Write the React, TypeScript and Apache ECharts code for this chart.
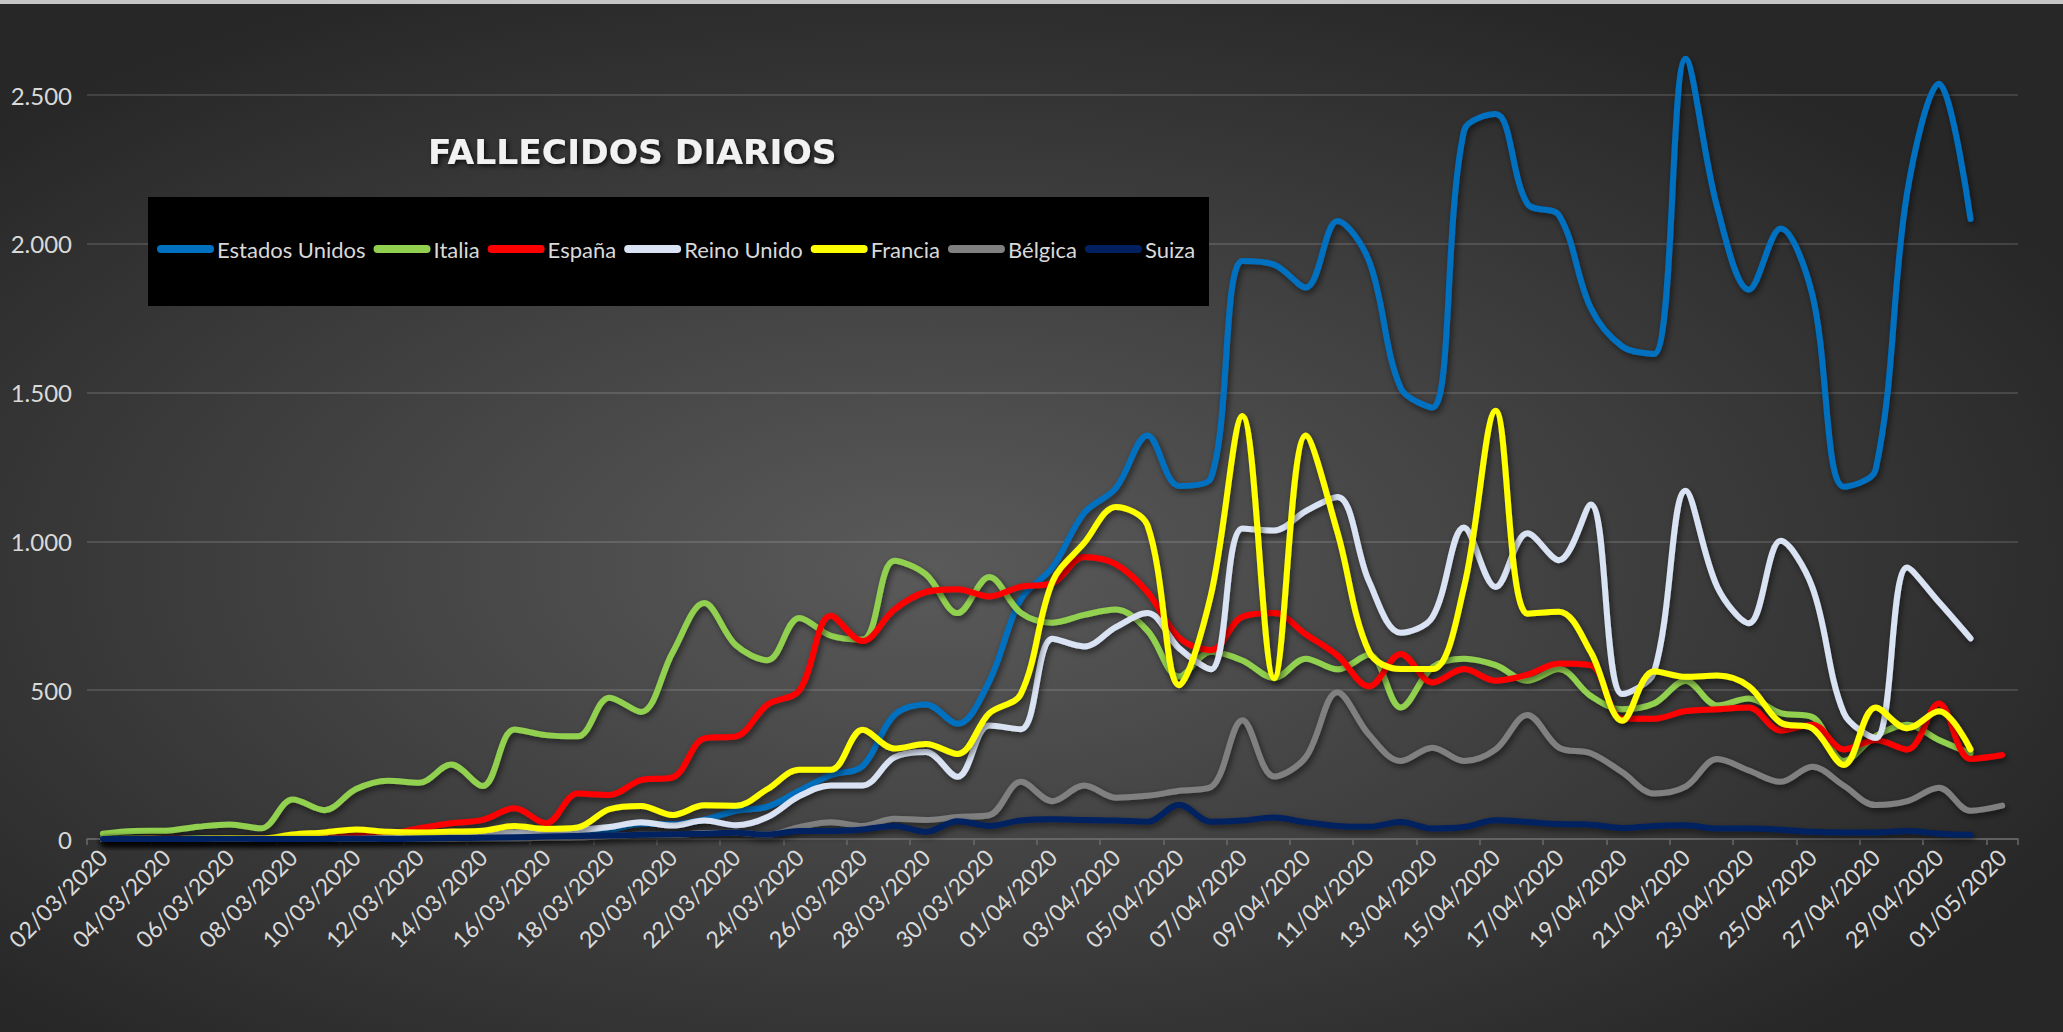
import React, { useEffect, useRef } from "react";
import * as echarts from "echarts";

const fechas = [
  "02/03/2020","03/03/2020","04/03/2020","05/03/2020","06/03/2020","07/03/2020","08/03/2020","09/03/2020","10/03/2020","11/03/2020",
  "12/03/2020","13/03/2020","14/03/2020","15/03/2020","16/03/2020","17/03/2020","18/03/2020","19/03/2020","20/03/2020","21/03/2020",
  "22/03/2020","23/03/2020","24/03/2020","25/03/2020","26/03/2020","27/03/2020","28/03/2020","29/03/2020","30/03/2020","31/03/2020",
  "01/04/2020","02/04/2020","03/04/2020","04/04/2020","05/04/2020","06/04/2020","07/04/2020","08/04/2020","09/04/2020","10/04/2020",
  "11/04/2020","12/04/2020","13/04/2020","14/04/2020","15/04/2020","16/04/2020","17/04/2020","18/04/2020","19/04/2020","20/04/2020",
  "21/04/2020","22/04/2020","23/04/2020","24/04/2020","25/04/2020","26/04/2020","27/04/2020","28/04/2020","29/04/2020","30/04/2020",
  "01/05/2020",
];

const yTicks = [0, 500, 1000, 1500, 2000, 2500];

const estadosUnidos = [
  0, 1, 1, 3, 2, 1, 2, 3, 4, 1, 5, 5, 8, 12, 15, 20, 30, 50, 50, 65,
  95, 109, 162, 215, 245, 416, 452, 387, 530, 806, 913, 1096, 1179, 1356, 1186, 1212, 1942, 1930, 1853, 2077,
  1942, 1515, 1450, 2380, 2436, 2135, 2096, 1785, 1655, 1630, 2622, 2122, 1846, 2051, 1830, 1184, 1240, 2173, 2538, 2083,
];
const italia = [
  18, 27, 28, 41, 49, 36, 133, 97, 168, 196, 189, 250, 178, 368, 349, 345, 475, 427, 627, 793,
  651, 601, 743, 683, 670, 935, 889, 759, 880, 760, 727, 753, 771, 700, 546, 629, 600, 541, 606, 570,
  619, 442, 577, 606, 584, 532, 571, 481, 436, 455, 532, 449, 472, 423, 410, 262, 346, 384, 333, 288,
];
const espana = [
  0, 0, 1, 0, 1, 2, 3, 5, 10, 17, 36, 53, 64, 103, 53, 153, 148, 198, 207, 338,
  345, 452, 499, 750, 665, 771, 830, 839, 815, 848, 860, 948, 924, 830, 676, 635, 747, 759, 688, 617,
  513, 622, 526, 571, 532, 552, 590, 584, 404, 404, 430, 436, 442, 365, 384, 301, 333, 301, 455, 269,
  282,
];
const reinoUnido = [
  0, 0, 0, 0, 1, 1, 0, 1, 1, 3, 5, 8, 15, 22, 25, 30, 40, 56, 45, 62,
  46, 74, 144, 180, 180, 274, 292, 209, 381, 369, 673, 647, 712, 759, 641, 570, 1043, 1037, 1102, 1149,
  865, 693, 745, 1047, 847, 1027, 937, 1124, 487, 560, 1170, 847, 725, 1002, 847, 423, 339, 912, 796, 674,
];
const francia = [
  0, 1, 0, 2, 3, 2, 15, 22, 32, 24, 22, 25, 28, 44, 34, 39, 100, 111, 81, 113,
  112, 168, 233, 233, 367, 304, 319, 286, 422, 487, 865, 995, 1116, 1054, 517, 818, 1421, 540, 1356, 1031,
  629, 571, 571, 847, 1439, 757, 764, 629, 397, 564, 545, 549, 513, 391, 372, 249, 442, 372, 429, 301,
];
const belgica = [
  0, 0, 0, 0, 0, 0, 0, 0, 0, 0, 1, 1, 2, 2, 4, 5, 10, 14, 14, 20,
  21, 15, 40, 56, 44, 68, 64, 74, 80, 192, 127, 180, 139, 145, 162, 174, 399, 210, 275, 493,
  350, 262, 307, 262, 301, 417, 307, 288, 224, 153, 176, 269, 230, 192, 243, 179, 114, 127, 172, 95,
  112,
];
const suiza = [
  0, 0, 0, 0, 1, 0, 0, 0, 1, 0, 2, 3, 4, 6, 8, 10, 12, 14, 16, 18,
  21, 15, 27, 27, 32, 44, 24, 60, 44, 62, 66, 64, 62, 58, 115, 58, 62, 72, 56, 44,
  41, 57, 35, 40, 63, 57, 50, 48, 37, 44, 46, 35, 35, 31, 24, 22, 22, 27, 18, 14,
];

const seriesNames = ["Estados Unidos", "Italia", "España", "Reino Unido", "Francia", "Bélgica", "Suiza"];
const seriesValues = [estadosUnidos, italia, espana, reinoUnido, francia, belgica, suiza];
const seriesColors = ["#0070C0", "#92D050", "#FF0000", "#DAE3F3", "#FFFF00", "#808080", "#002060"];

const fmtMiles = (v: number) => String(v).replace(/\B(?=(\d{3})+(?!\d))/g, ".");

export default function App() {
  const ref = useRef<HTMLDivElement>(null);

  useEffect(() => {
    document.body.style.margin = "0";
    const chart = echarts.init(ref.current!, null, { renderer: "svg" });
    const font = "Lato";
    chart.setOption({
      animation: false,
      color: seriesColors,
      title: {
        text: "FALLECIDOS DIARIOS",
        left: 428,
        top: 134,
        padding: 0,
        textStyle: {
          color: "#f2f2f2",
          fontSize: 34.5,
          fontWeight: "bold",
          fontFamily: "DejaVu Sans",
          textShadowColor: "rgba(0,0,0,0.75)",
          textShadowBlur: 5,
          textShadowOffsetX: 2,
          textShadowOffsetY: 2,
        },
      },
      graphic: {
        elements: [
          {
            type: "rect",
            z: -10,
            silent: true,
            shape: { x: 0, y: 0, width: 2063, height: 1032 },
            style: {
              fill: new echarts.graphic.RadialGradient(0.45, 0.55, 0.62, [
                { offset: 0, color: "#5a5a5a" },
                { offset: 1, color: "#272727" },
              ]),
            },
          },
          {
            type: "rect",
            z: 10,
            silent: true,
            shape: { x: 0, y: 0, width: 2063, height: 4 },
            style: { fill: "#c6c6c6" },
          },
          {
            type: "rect",
            z: 3,
            silent: true,
            shape: { x: 148, y: 197, width: 1061, height: 109 },
            style: { fill: "#000000" },
          },
        ],
      },
      legend: {
        left: 157,
        top: 238,
        padding: 0,
        itemGap: 8,
        itemWidth: 57,
        itemHeight: 8,
        z: 5,
        selectedMode: false,
        icon: "path://M4 0H53A4 4 0 0 1 53 8H4A4 4 0 0 1 4 0Z",
        textStyle: { color: "#d9d9d9", fontSize: 22, fontFamily: font, padding: [0, 0, 0, -2] },
        data: seriesNames,
      },
      grid: { left: 87, right: 45, top: 95, bottom: 193, containLabel: false },
      xAxis: {
        type: "category",
        data: fechas,
        boundaryGap: true,
        axisLine: { show: true, lineStyle: { color: "#6a6a6a", width: 1.5 } },
        axisTick: { show: true, interval: 1, length: 6, lineStyle: { color: "#6a6a6a", width: 1.5 } },
        axisLabel: {
          interval: 1,
          rotate: 45,
          color: "#d9d9d9",
          fontSize: 23,
          fontFamily: font,
          margin: 14,
        },
        splitLine: { show: false },
      },
      yAxis: {
        type: "value",
        min: yTicks[0],
        max: yTicks[yTicks.length - 1],
        interval: 500,
        axisLine: { show: false },
        axisTick: { show: false },
        axisLabel: {
          color: "#d9d9d9",
          fontSize: 24,
          fontFamily: font,
          margin: 15,
          formatter: (v: number) => fmtMiles(v),
        },
        splitLine: { lineStyle: { color: "rgba(255,255,255,0.13)", width: 2 } },
      },
      series: seriesNames.map((name, i) => ({
        name,
        type: "line",
        data: seriesValues[i],
        smooth: 0.35,
        showSymbol: false,
        symbol: "none",
        clip: false,
        z: 2 + i * 0.01,
        emphasis: { disabled: true },
        lineStyle: {
          width: 6,
          color: seriesColors[i],
          cap: "round",
          join: "round",
          shadowColor: "rgba(0,0,0,0.55)",
          shadowBlur: 6,
          shadowOffsetX: 2,
          shadowOffsetY: 3,
        },
        itemStyle: { color: seriesColors[i] },
      })),
    });
    return () => chart.dispose();
  }, []);

  return <div ref={ref} style={{ width: 2063, height: 1032 }} />;
}
